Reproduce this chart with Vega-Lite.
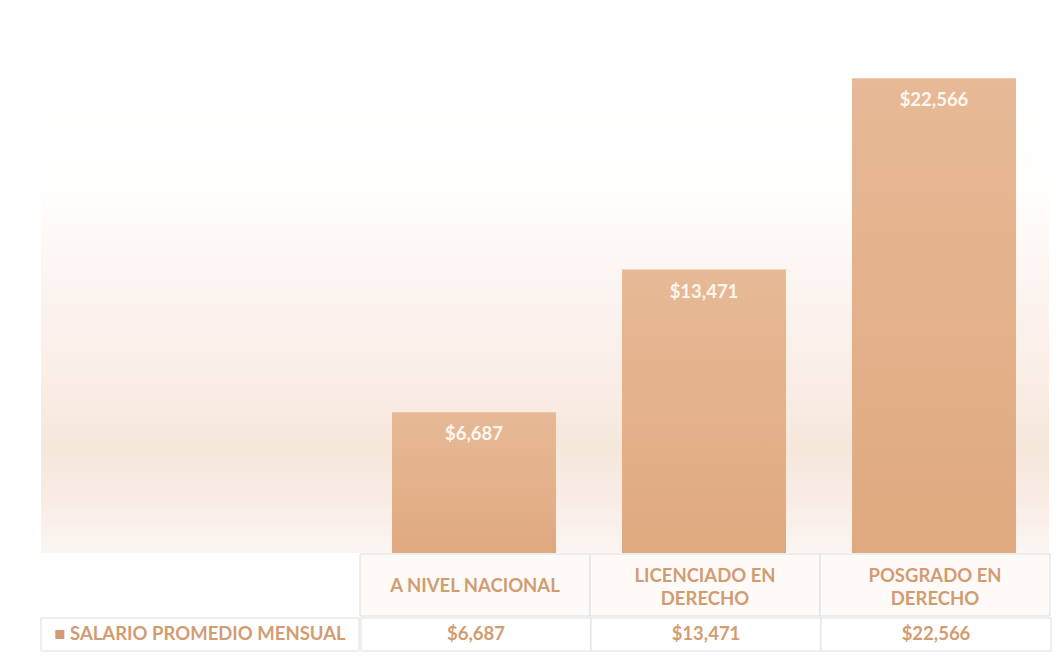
{
  "$schema": "https://vega.github.io/schema/vega-lite/v6.json",
  "padding": {"left": 40, "top": 27, "right": 13, "bottom": 8},
  "autosize": {"type": "pad"},
  "background": "white",
  "config": {
    "view": {"stroke": null},
    "font": "Lato"
  },
  "datasets": {
    "salarios": [
      {"categoria": "A NIVEL NACIONAL", "etiqueta": "A NIVEL NACIONAL", "salario": 6687},
      {"categoria": "LICENCIADO EN DERECHO", "etiqueta": "LICENCIADO EN\nDERECHO", "salario": 13471},
      {"categoria": "POSGRADO EN DERECHO", "etiqueta": "POSGRADO EN\nDERECHO", "salario": 22566}
    ],
    "leyenda": [{"serie": "■ SALARIO PROMEDIO MENSUAL"}]
  },
  "spacing": 0,
  "vconcat": [
    {
      "spacing": 0,
      "hconcat": [
        {
          "width": 318,
          "height": 526,
          "data": {"name": "leyenda"},
          "mark": {
            "type": "rect",
            "color": {"gradient": "linear", "x1": 0, "y1": 0, "x2": 0, "y2": 1,
              "stops": [
                {"offset": 0, "color": "#FFFFFF"},
                {"offset": 0.3, "color": "#FFFEFD"},
                {"offset": 0.5, "color": "#FCF4F0"},
                {"offset": 0.7, "color": "#F9ECE4"},
                {"offset": 0.8, "color": "#F6E7DB"},
                {"offset": 0.9, "color": "#F8ECE5"},
                {"offset": 1, "color": "#FCF5F2"}
              ]}
          },
          "encoding": {
            "y": {"datum": 25000, "type": "quantitative", "scale": {"domain": [0, 25000], "nice": false}, "axis": null},
            "y2": {"datum": 0}
          }
        },
        {
          "width": 690,
          "height": 526,
          "data": {"name": "salarios"},
          "layer": [
            {
              "mark": {
                "type": "rect",
                "color": {"gradient": "linear", "x1": 0, "y1": 0, "x2": 0, "y2": 1,
                  "stops": [
                    {"offset": 0, "color": "#FFFFFF"},
                    {"offset": 0.3, "color": "#FFFEFD"},
                    {"offset": 0.5, "color": "#FCF4F0"},
                    {"offset": 0.7, "color": "#F9ECE4"},
                    {"offset": 0.8, "color": "#F6E7DB"},
                    {"offset": 0.9, "color": "#F8ECE5"},
                    {"offset": 1, "color": "#FCF5F2"}
                  ]}
              },
              "encoding": {
                "y": {"datum": 25000, "type": "quantitative", "scale": {"domain": [0, 25000], "nice": false}, "axis": null},
                "y2": {"datum": 0}
              }
            },
            {
              "mark": {
                "type": "bar",
                "color": {"gradient": "linear", "x1": 0, "y1": 0, "x2": 0, "y2": 1,
                  "stops": [
                    {"offset": 0, "color": "#E7B996"},
                    {"offset": 1, "color": "#DFA97F"}
                  ]}
              },
              "encoding": {
                "x": {"field": "categoria", "type": "nominal", "sort": null,
                  "scale": {"paddingInner": 0.287, "paddingOuter": 0.1435}, "axis": null},
                "y": {"field": "salario", "type": "quantitative", "axis": null}
              }
            },
            {
              "mark": {"type": "text", "baseline": "top", "dy": 13, "fontSize": 18.5, "fontWeight": "bold", "color": "#FFF7F0"},
              "encoding": {
                "x": {"field": "categoria", "type": "nominal", "sort": null},
                "y": {"field": "salario", "type": "quantitative"},
                "text": {"field": "salario", "type": "quantitative", "format": "$,.0f"}
              }
            }
          ]
        }
      ]
    },
    {
      "spacing": 0,
      "hconcat": [
        {
          "width": 318,
          "height": 62,
          "data": {"name": "leyenda"},
          "mark": {"type": "rect", "fill": "#FFFFFF", "opacity": 0},
          "encoding": {
            "x": {"datum": "x", "type": "nominal", "axis": null}
          }
        },
        {
          "width": 690,
          "height": 62,
          "data": {"name": "salarios"},
          "layer": [
            {
              "mark": {"type": "rect", "fill": "#FEFAF8", "stroke": "#DEDEDE", "strokeWidth": 1},
              "encoding": {
                "x": {"field": "categoria", "type": "nominal", "sort": null,
                  "scale": {"paddingInner": 0, "paddingOuter": 0}, "axis": null}
              }
            },
            {
              "transform": [{"filter": "indexof(datum.etiqueta, '\\n') < 0"}],
              "mark": {"type": "text", "fontSize": 18.5, "fontWeight": "bold", "color": "#D29C72", "baseline": "middle", "dy": 1},
              "encoding": {
                "x": {"field": "categoria", "type": "nominal", "sort": null},
                "text": {"field": "etiqueta", "type": "nominal"}
              }
            },
            {
              "transform": [{"filter": "indexof(datum.etiqueta, '\\n') >= 0"}],
              "mark": {"type": "text", "fontSize": 18.5, "fontWeight": "bold", "color": "#D29C72", "lineBreak": "\n", "lineHeight": 23, "baseline": "middle", "dy": -9},
              "encoding": {
                "x": {"field": "categoria", "type": "nominal", "sort": null},
                "text": {"field": "etiqueta", "type": "nominal"}
              }
            }
          ]
        }
      ]
    },
    {
      "spacing": 0,
      "hconcat": [
        {
          "width": 318,
          "height": 33,
          "data": {"name": "leyenda"},
          "layer": [
            {
              "mark": {"type": "rect", "fill": "#FFFFFF", "stroke": "#DEDEDE", "strokeWidth": 1},
              "encoding": {
                "x": {"field": "serie", "type": "nominal",
                  "scale": {"paddingInner": 0, "paddingOuter": 0}, "axis": null}
              }
            },
            {
              "mark": {"type": "text", "fontSize": 18.5, "fontWeight": "bold", "color": "#D29C72", "dy": -1},
              "encoding": {
                "x": {"field": "serie", "type": "nominal"},
                "text": {"field": "serie", "type": "nominal"}
              }
            }
          ]
        },
        {
          "width": 690,
          "height": 33,
          "data": {"name": "salarios"},
          "layer": [
            {
              "mark": {"type": "rect", "fill": "#FFFFFF", "stroke": "#DEDEDE", "strokeWidth": 1},
              "encoding": {
                "x": {"field": "categoria", "type": "nominal", "sort": null,
                  "scale": {"paddingInner": 0, "paddingOuter": 0}, "axis": null}
              }
            },
            {
              "mark": {"type": "text", "fontSize": 18.5, "fontWeight": "bold", "color": "#D29C72", "dy": -1},
              "encoding": {
                "x": {"field": "categoria", "type": "nominal", "sort": null},
                "text": {"field": "salario", "type": "quantitative", "format": "$,.0f"}
              }
            }
          ]
        }
      ]
    }
  ]
}
